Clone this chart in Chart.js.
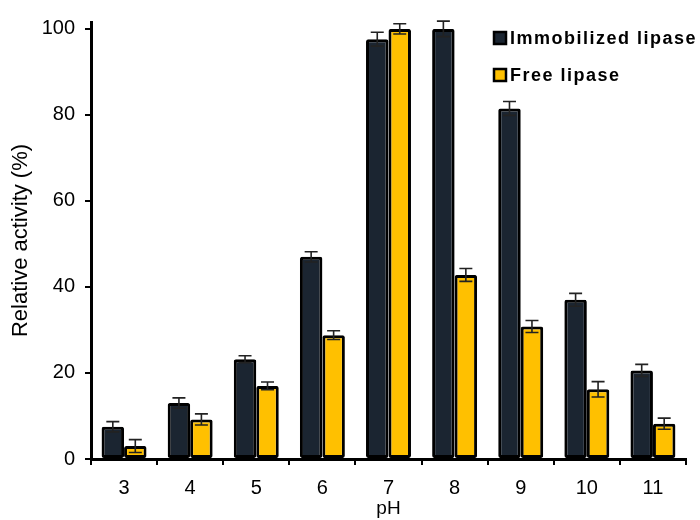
<!DOCTYPE html>
<html>
<head>
<meta charset="utf-8">
<script src="https://cdn.jsdelivr.net/npm/chart.js@4"></script>
<style>
  html, body { margin: 0; padding: 0; background: #fff; }
  #wrap { width: 700px; height: 520px; }
</style>
</head>
<body>
<div id="wrap"><canvas id="myChart" width="700" height="520"></canvas></div>
<script>
// pH waarden op de x-as
let phLabels = ['3', '4', '5', '6', '7', '8', '9', '10', '11'];
// relatieve activiteit (%) van beide enzymen
let immobilized = [7.5, 13, 23.2, 47, 97.6, 100, 81.5, 37, 20.6];
let free = [3.0, 9.2, 17, 28.8, 100, 42.8, 30.8, 16.2, 8.2];
// standaardafwijkingen voor de foutbalken
let immobilizedErr = [1.2, 1.2, 0.8, 1.2, 1.6, 1.8, 1.6, 1.5, 1.4];
let freeErr = [1.5, 1.3, 0.9, 1.0, 1.2, 1.5, 1.4, 1.8, 1.3];
// tick labels op de y-as
let yTicks = [0, 20, 40, 60, 80, 100];

let fontFamily = 'Arial, "Liberation Sans", sans-serif';
let narrowFamily = '"Liberation Sans Narrow", "Arial Narrow", Arial, "Liberation Sans", sans-serif';

// foutbalken tekenen boven op de staven
let errorBars = {
  id: 'errorBars',
  afterDatasetsDraw(chart) {
    let ctx = chart.ctx;
    let y = chart.scales.y;
    chart.data.datasets.forEach((ds, i) => {
      let meta = chart.getDatasetMeta(i);
      meta.data.forEach((bar, j) => {
        let v = ds.data[j];
        let e = ds.errors[j];
        let top = y.getPixelForValue(v + e);
        let bottom = y.getPixelForValue(v - e);
        let x = bar.x;
        ctx.save();
        ctx.strokeStyle = '#222';
        ctx.lineWidth = 1.6;
        ctx.beginPath();
        ctx.moveTo(x, top); ctx.lineTo(x, bottom);
        ctx.moveTo(x - 6.5, top); ctx.lineTo(x + 6.5, top);
        ctx.moveTo(x - 6.5, bottom); ctx.lineTo(x + 6.5, bottom);
        ctx.stroke();
        ctx.restore();
      });
    });
  }
};

// eigen legenda rechtsboven in het grafiekvlak
let boxLegend = {
  id: 'boxLegend',
  afterDraw(chart) {
    let ctx = chart.ctx;
    let x0 = 494, y0 = 38, step = 37;
    ctx.save();
    chart.data.datasets.forEach((ds, i) => {
      let yy = y0 + i * step;
      ctx.fillStyle = ds.backgroundColor;
      ctx.fillRect(x0, yy - 6, 12, 12);
      ctx.strokeStyle = '#000';
      ctx.lineWidth = 2.5;
      ctx.strokeRect(x0, yy - 6, 12, 12);
      ctx.fillStyle = '#000';
      ctx.font = 'bold 18px ' + fontFamily;
      ctx.letterSpacing = '1.5px';
      ctx.textBaseline = 'middle';
      ctx.fillText(ds.label, x0 + 16, yy + 1);
    });
    ctx.restore();
  }
};

let myChart = document.getElementById('myChart').getContext('2d');

let chart = new Chart(myChart, {
  type: 'bar',
  data: {
    labels: phLabels,
    datasets: [{
      label: 'Immobilized lipase',
      data: immobilized,
      errors: immobilizedErr,
      backgroundColor: '#1b2531',
      borderColor: '#000',
      borderWidth: 3,
      borderRadius: 2,
      borderSkipped: false
    }, {
      label: 'Free lipase',
      data: free,
      errors: freeErr,
      backgroundColor: '#ffc000',
      borderColor: '#000',
      borderWidth: 3,
      borderRadius: 2,
      borderSkipped: false
    }]
  },
  options: {
    responsive: false,
    animation: false,
    layout: { padding: { top: 20, right: 14, left: 0, bottom: 0 } },
    datasets: { bar: { categoryPercentage: 0.68, barPercentage: 1 } },
    plugins: {
      legend: { display: false },
      tooltip: { enabled: false }
    },
    scales: {
      x: {
        title: {
          display: true,
          text: 'pH',
          color: '#000',
          font: { family: fontFamily, size: 19 },
          padding: { top: 2, bottom: 0 }
        },
        ticks: { color: '#000', font: { family: narrowFamily, size: 20 }, padding: 11 },
        grid: { drawOnChartArea: false, drawTicks: true, tickLength: 6, color: '#000', lineWidth: 2 },
        border: { display: true, color: '#000', width: 3 },
        afterFit(scale) { scale.height = 61; }
      },
      y: {
        min: 0,
        max: 101.6,
        afterBuildTicks(scale) {
          scale.ticks = yTicks.map(v => ({ value: v }));
        },
        title: {
          display: true,
          text: 'Relative activity (%)',
          color: '#000',
          font: { family: fontFamily, size: 22 },
          padding: { top: 8, bottom: 0 }
        },
        ticks: { color: '#000', font: { family: narrowFamily, size: 20 }, padding: 10 },
        grid: { drawOnChartArea: false, drawTicks: true, tickLength: 6, color: '#000', lineWidth: 2 },
        border: { display: true, color: '#000', width: 3 },
        afterFit(scale) { scale.width = 91; }
      }
    }
  },
  plugins: [errorBars, boxLegend]
});
</script>
</body>
</html>
